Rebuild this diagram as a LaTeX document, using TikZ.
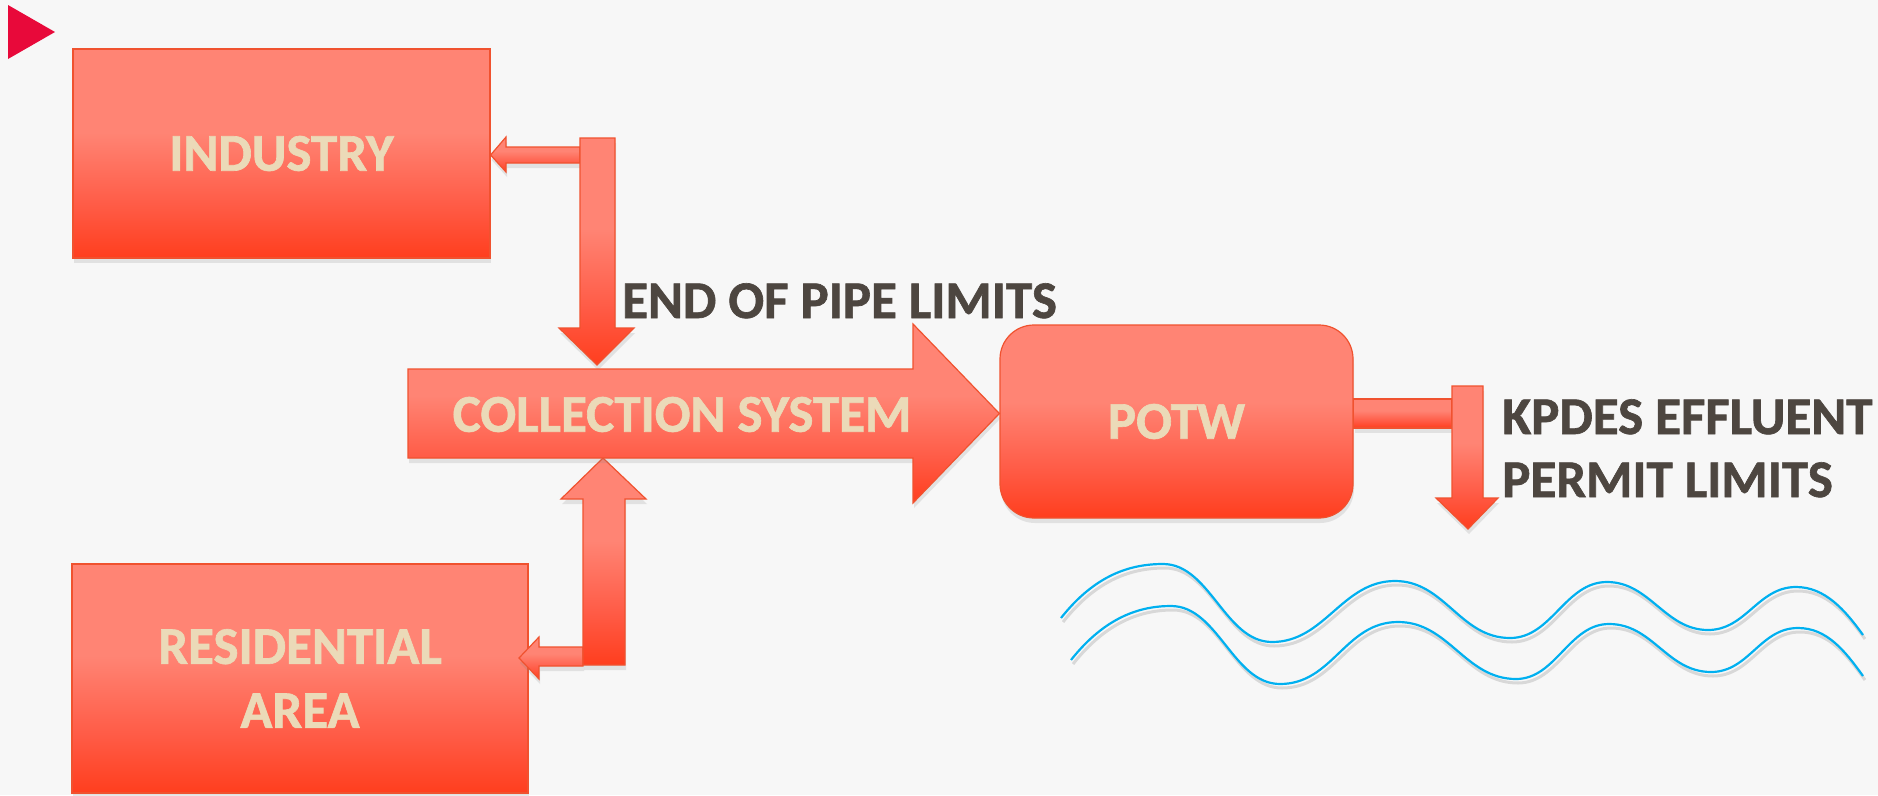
\documentclass[tikz,border=0pt]{standalone}
\usepackage{fontspec}
\setmainfont{Carlito}[BoldFeatures={FakeBold=1.2}]
\usetikzlibrary{shadows}

\definecolor{bg}{HTML}{F7F7F7}
\definecolor{redlight}{HTML}{FF8474}
\definecolor{redmid}{HTML}{FF5C47}
\definecolor{reddark}{HTML}{FF3E1E}
\definecolor{redline}{HTML}{F0522F}
\definecolor{beige}{HTML}{EBDAB8}
\definecolor{ink}{HTML}{4D4640}
\definecolor{water}{HTML}{00B0F0}
\definecolor{marker}{HTML}{E8093A}

% light top half, deepening towards the bottom edge
\pgfdeclareverticalshading{redfade}{100bp}{color(0bp)=(reddark); color(25bp)=(reddark);
  color(38bp)=(redmid); color(55bp)=(redlight); color(100bp)=(redlight)}

\tikzset{
  redblock/.style={shade, shading=redfade, draw=redline, line width=1.2pt,
    drop shadow={opacity=0.18, shadow xshift=1pt, shadow yshift=-5pt}},
  redbox/.style={redblock, rectangle, inner sep=0pt, text=beige, align=center,
    font=\fontsize{53}{64}\selectfont\bfseries},
  boxtext/.style={text=beige, inner sep=0pt, font=\fontsize{53}{64}\selectfont\bfseries},
  inktext/.style={text=ink, inner sep=0pt, align=left, font=\fontsize{53}{63}\selectfont\bfseries},
  wave/.style={draw=water, line width=2.2pt},
  waveshadow/.style={draw=black, opacity=0.12, line width=3pt},
}

\begin{document}
\begin{tikzpicture}[x=1pt,y=-1pt]
\fill[bg] (0,0) rectangle (1878,795);
\useasboundingbox (0,0) rectangle (1878,795);

% corner marker
\fill[marker] (8,5) -- (55,32) -- (8,59) -- cycle;

% sources and treatment plant
\node[redbox, minimum width=417pt, minimum height=209pt] (industry) at (281.5,153.5) {INDUSTRY};
\node[redbox, minimum width=456pt, minimum height=229pt] (residential) at (300,678.5) {RESIDENTIAL\\AREA};
\node[redbox, rounded corners=34pt, minimum width=353pt, minimum height=193pt] (potw) at (1176.5,421.5) {POTW};

% industry branch: feed arrow into the box, then main drop into the collection system
\path[redblock] (580,147) -- (506,147) -- (506,137) -- (industry.east |- 0,155)
  -- (506,172) -- (506,163) -- (580,163) -- cycle;
\path[redblock] (580,138) -- (615,138) -- (615,328) -- (634,328) -- (597,365)
  -- (559,328) -- (580,328) -- cycle;

% residential branch
\path[redblock] (583,647) -- (539,647) -- (539,637) -- (519,658)
  -- (539,679) -- (539,666) -- (583,666) -- cycle;
\path[redblock] (583,665) -- (583,499) -- (561,499) -- (603,458) -- (646,499)
  -- (625,499) -- (625,665) -- cycle;

% collection system block arrow into the plant
\path[redblock] (408,369) -- (913,369) -- (913,324) -- (potw.west |- 0,413.5)
  -- (913,503) -- (913,458) -- (408,458) -- cycle;
\node[boxtext] (collection) at (682,414.5) {COLLECTION SYSTEM};

% effluent discharge
\path[redblock] (potw.east |- 0,399) -- (1452,399) -- (1452,428) -- (potw.east |- 0,428) -- cycle;
\path[redblock] (1452,386) -- (1483,386) -- (1483,498) -- (1498,498) -- (1468,529)
  -- (1436,498) -- (1452,498) -- cycle;

% labels
\node[inktext, anchor=base west] (pipelimits) at (622,318) {END OF PIPE LIMITS};
\node[inktext, anchor=base west] (kpdes1) at (1502,434) {KPDES EFFLUENT};
\node[inktext, anchor=base west] (kpdes2) at (1502,497) {PERMIT LIMITS};

% receiving stream
\def\waveone{(1061,618) .. controls (1095,575) and (1130,564) .. (1163,564)
  .. controls (1210,564) and (1225,642) .. (1272,642)
  .. controls (1325,642) and (1342,581) .. (1395,581)
  .. controls (1445,581) and (1460,638) .. (1510,638)
  .. controls (1552,638) and (1565,582) .. (1607,582)
  .. controls (1650,582) and (1665,630) .. (1708,630)
  .. controls (1746,630) and (1758,587) .. (1796,587)
  .. controls (1825,587) and (1845,610) .. (1863,635)}
\def\wavetwo{(1071,660) .. controls (1105,617) and (1140,606) .. (1171,606)
  .. controls (1218,606) and (1233,684) .. (1280,684)
  .. controls (1333,684) and (1345,622) .. (1398,622)
  .. controls (1449,622) and (1465,679) .. (1516,679)
  .. controls (1556,679) and (1569,624) .. (1609,624)
  .. controls (1653,624) and (1667,672) .. (1711,672)
  .. controls (1749,672) and (1760,628) .. (1798,628)
  .. controls (1827,628) and (1845,651) .. (1863,676)}
\begin{scope}[shift={(2,4)}]
  \draw[waveshadow] \waveone;
  \draw[waveshadow] \wavetwo;
\end{scope}
\draw[wave] \waveone;
\draw[wave] \wavetwo;
\end{tikzpicture}
\end{document}
